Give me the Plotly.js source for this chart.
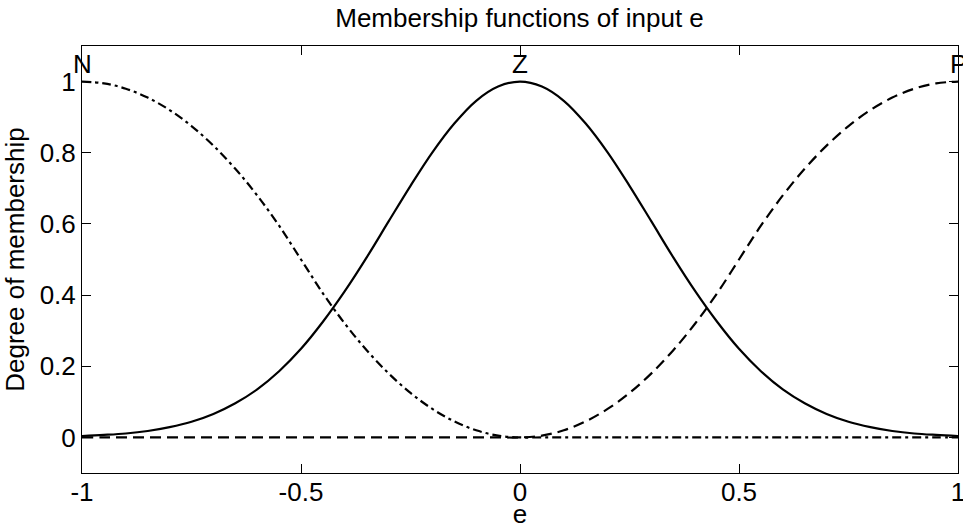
<!DOCTYPE html>
<html>
<head>
<meta charset="utf-8">
<script src="https://cdn.plot.ly/plotly-3.0.1.min.js"></script>
<style>html,body{margin:0;padding:0;background:#fff;}#chart{width:963px;height:529px;}</style>
</head>
<body>
<div id="chart"></div>
<script>
// input e values (sampled)
var eValues = [-1, -0.95, -0.9, -0.85, -0.8, -0.75, -0.7, -0.65, -0.6, -0.55, -0.5,
  -0.45, -0.4, -0.35, -0.3, -0.25, -0.2, -0.15, -0.1, -0.05, 0,
  0.05, 0.1, 0.15, 0.2, 0.25, 0.3, 0.35, 0.4, 0.45, 0.5,
  0.55, 0.6, 0.65, 0.7, 0.75, 0.8, 0.85, 0.9, 0.95, 1];

// membership of N (dash-dot)
var muN = [1, 0.995, 0.98, 0.955, 0.92, 0.875, 0.82, 0.755, 0.68, 0.595, 0.5,
  0.405, 0.32, 0.245, 0.18, 0.125, 0.08, 0.045, 0.02, 0.005, 0,
  0, 0, 0, 0, 0, 0, 0, 0, 0, 0,
  0, 0, 0, 0, 0, 0, 0, 0, 0, 0];

// membership of Z (solid)
var muZ = [0.004, 0.007, 0.011, 0.018, 0.029, 0.044, 0.066, 0.096, 0.135, 0.186, 0.249,
  0.325, 0.411, 0.506, 0.607, 0.707, 0.801, 0.882, 0.946, 0.986, 1,
  0.986, 0.946, 0.882, 0.801, 0.707, 0.607, 0.506, 0.411, 0.325, 0.249,
  0.186, 0.135, 0.096, 0.066, 0.044, 0.029, 0.018, 0.011, 0.007, 0.004];

// membership of P (dashed)
var muP = [0, 0, 0, 0, 0, 0, 0, 0, 0, 0, 0,
  0, 0, 0, 0, 0, 0, 0, 0, 0, 0,
  0.005, 0.02, 0.045, 0.08, 0.125, 0.18, 0.245, 0.32, 0.405, 0.5,
  0.595, 0.68, 0.755, 0.82, 0.875, 0.92, 0.955, 0.98, 0.995, 1];

var mfNames = ['N', 'Z', 'P'];
var mfCenters = [-1, 0, 1];

var xTickVals = [-1, -0.5, 0, 0.5, 1];
var xTickText = ['-1', '-0.5', '0', '0.5', '1'];
var yTickVals = [0, 0.2, 0.4, 0.6, 0.8, 1];
var yTickText = ['0', '0.2', '0.4', '0.6', '0.8', '1'];

var FONT = 'Liberation Sans, Arial, Helvetica, sans-serif';
var FS = 26;

var traces = [
  {x: eValues, y: muN, type: 'scatter', mode: 'lines', name: 'N', cliponaxis: false,
   line: {color: '#000', width: 2.2, dash: '9px,4px,3px,4px', shape: 'spline'}},
  {x: eValues, y: muZ, type: 'scatter', mode: 'lines', name: 'Z',
   line: {color: '#000', width: 2.2, shape: 'spline'}},
  {x: eValues, y: muP, type: 'scatter', mode: 'lines', name: 'P',
   line: {color: '#000', width: 2.2, dash: '11px,6px', shape: 'spline'}}
];

var annotations = mfNames.map(function (n, i) {
  return {x: mfCenters[i], y: 1.0, xref: 'x', yref: 'y', text: n, showarrow: false,
    xanchor: 'center', yanchor: 'bottom', yshift: 1,
    font: {family: FONT, size: FS, color: '#000'}};
});

var layout = {
  width: 963, height: 529,
  margin: {l: 82, r: 5, t: 46, b: 56, pad: 0},
  paper_bgcolor: '#fff', plot_bgcolor: '#fff',
  showlegend: false,
  font: {family: FONT, size: FS, color: '#000'},
  title: {text: 'Membership functions of input e', font: {family: FONT, size: FS, color: '#000'},
    x: 0.5395, xanchor: 'center', y: 0.966, yref: 'container', yanchor: 'middle'},
  xaxis: {range: [-1, 1], tickvals: xTickVals, ticktext: xTickText,
    ticks: 'inside', ticklen: 9, tickwidth: 1, tickcolor: '#000',
    showline: true, linecolor: '#000', linewidth: 1, mirror: 'ticks',
    showgrid: false, zeroline: false, fixedrange: true,
    ticklabeloverflow: 'allow', ticklabelstandoff: -4,
    tickfont: {family: FONT, size: FS, color: '#000'},
    title: {text: 'e', font: {family: FONT, size: FS, color: '#000'}}},
  yaxis: {range: [-0.1, 1.1], tickvals: yTickVals, ticktext: yTickText,
    ticks: 'inside', ticklen: 9, tickwidth: 1, tickcolor: '#000',
    showline: true, linecolor: '#000', linewidth: 1, mirror: 'ticks',
    showgrid: false, zeroline: false, fixedrange: true,
    ticklabeloverflow: 'allow',
    tickfont: {family: FONT, size: FS, color: '#000'},
    title: {text: 'Degree of membership', font: {family: FONT, size: FS, color: '#000'}}},
  annotations: annotations
};

Plotly.newPlot('chart', traces, layout, {displayModeBar: false, staticPlot: true});
</script>
</body>
</html>
